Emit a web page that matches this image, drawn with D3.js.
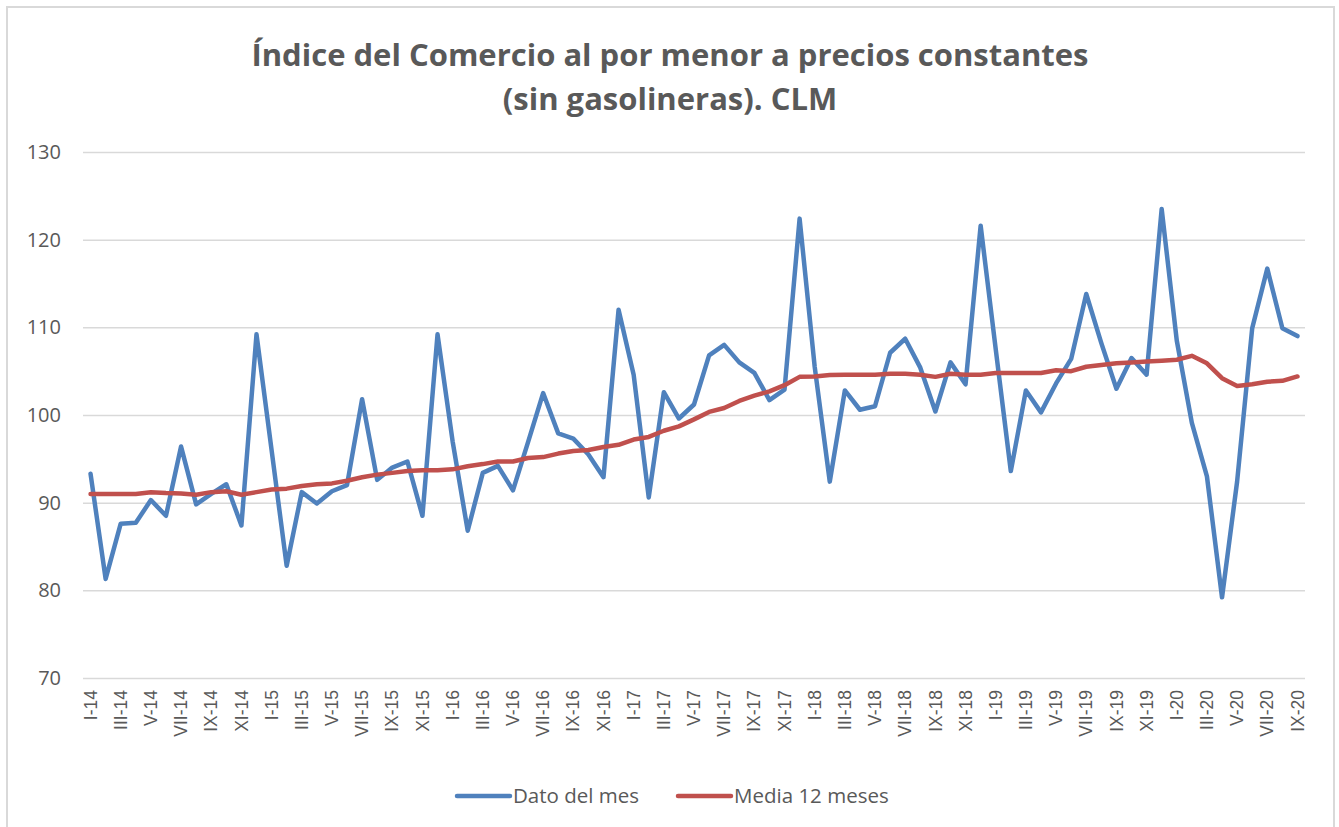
<!DOCTYPE html>
<html>
<head>
<meta charset="utf-8">
<script src="https://cdn.jsdelivr.net/npm/d3@7"></script>
<style>
  body { margin: 0; background: #fff; }
  svg { display: block; font-family: "Open Sans", "Noto Sans", sans-serif; }
</style>
</head>
<body>
<svg id="chart" width="1339" height="827"></svg>
<script>
// months from I-14 to IX-20
const romans = ["I", "II", "III", "IV", "V", "VI", "VII", "VIII", "IX", "X", "XI", "XII"];
const years = ["14", "15", "16", "17", "18", "19", "20"];
const months = [];
years.forEach((y) => romans.forEach((r) => months.push(r + "-" + y)));
months.splice(months.indexOf("IX-20") + 1);

// Dato del mes
const datoMes = [
  93.3, 81.3, 87.6, 87.7, 90.3, 88.5, 96.4, 89.8, 91.0, 92.1, 87.4, 109.2,
  96.0, 82.8, 91.2, 89.9, 91.3, 92.0, 101.8, 92.6, 94.0, 94.7, 88.5, 109.2,
  97.0, 86.8, 93.4, 94.2, 91.4, 96.9, 102.5, 97.9, 97.3, 95.5, 92.9, 112.0,
  104.6, 90.6, 102.6, 99.6, 101.2, 106.8, 108.0, 106.0, 104.8, 101.7, 102.9, 122.4,
  105.5, 92.4, 102.8, 100.6, 101.0, 107.1, 108.7, 105.4, 100.4, 106.0, 103.5, 121.6,
  107.5, 93.6, 102.8, 100.3, 103.6, 106.4, 113.8, 108.2, 103.0, 106.5, 104.6, 123.5,
  108.5, 99.1, 93.0, 79.2, 92.4, 109.9, 116.7, 109.9, 109.0
];

// Media 12 meses
const media12 = [
  91.0, 91.0, 91.0, 91.0, 91.2, 91.1, 91.05, 90.9, 91.2, 91.3, 90.9, 91.2,
  91.5, 91.6, 91.9, 92.1, 92.2, 92.5, 92.9, 93.2, 93.4, 93.6, 93.7, 93.7,
  93.8, 94.15, 94.4, 94.7, 94.7, 95.1, 95.2, 95.6, 95.9, 96.0, 96.35, 96.6,
  97.2, 97.5, 98.2, 98.7, 99.5, 100.35, 100.8, 101.6, 102.2, 102.7, 103.4, 104.35,
  104.4, 104.55, 104.6, 104.6, 104.6, 104.7, 104.7, 104.6, 104.35, 104.7, 104.6, 104.6,
  104.8, 104.8, 104.8, 104.8, 105.1, 105.0, 105.5, 105.7, 105.9, 106.0, 106.1, 106.2,
  106.3, 106.75, 105.9, 104.2, 103.3, 103.5, 103.8, 103.9, 104.4
];

const yTicks = [70, 80, 90, 100, 110, 120, 130];
const titleLines = ["Índice del Comercio al por menor a precios constantes", "(sin gasolineras). CLM"];
const seriesNames = ["Dato del mes", "Media 12 meses"];
const colors = ["#4f81bd", "#c0504d"];

const svg = d3.select("#chart");
const W = 1339, H = 827;
const margin = { left: 83, right: 34, top: 152, bottom: 149 };

// chart frame (bottom edge runs past the picture)
svg.append("rect")
  .attr("x", 7).attr("y", 7)
  .attr("width", 1327).attr("height", 840)
  .attr("fill", "#fff").attr("stroke", "#d9d9d9").attr("stroke-width", 2);

const x = d3.scaleBand()
  .domain(months)
  .range([margin.left, W - margin.right])
  .padding(0);

const y = d3.scaleLinear()
  .domain([70, 130])
  .range([H - margin.bottom, margin.top]);

const cx = (d) => x(d) + x.bandwidth() / 2;

// title
svg.append("g")
  .selectAll("text")
  .data(titleLines)
  .enter()
  .append("text")
  .attr("x", 670)
  .attr("y", (d, i) => 66 + i * 44)
  .attr("text-anchor", "middle")
  .attr("font-size", 31)
  .attr("font-weight", "bold")
  .attr("fill", "#595959")
  .text((d) => d);

// gridlines + y labels
const yAxis = svg.append("g")
  .attr("transform", `translate(${margin.left},0)`)
  .call(d3.axisLeft(y).tickValues(yTicks).tickSize(-(W - margin.left - margin.right)).tickPadding(22));
yAxis.select(".domain").remove();
yAxis.selectAll(".tick line").attr("stroke", "#d9d9d9").attr("stroke-width", 1.5);
yAxis.selectAll(".tick text")
  .attr("font-size", 20)
  .attr("fill", "#595959")
  .attr("font-family", "'Open Sans', sans-serif");

// x labels
const xAxis = svg.append("g")
  .attr("transform", `translate(0,${H - margin.bottom})`)
  .call(d3.axisBottom(x).tickValues(months.filter((d, i) => i % 2 === 0)).tickSize(0));
xAxis.select(".domain").remove();
xAxis.selectAll(".tick text")
  .attr("font-size", 17.5)
  .attr("fill", "#595959")
  .attr("text-anchor", "end")
  .attr("transform", "rotate(-90)")
  .attr("x", -12)
  .attr("y", 0)
  .attr("dy", "0.35em");

// lines
const line = d3.line()
  .x((d, i) => cx(months[i]))
  .y((d) => y(d));

[datoMes, media12].forEach((s, k) => {
  svg.append("path")
    .datum(s)
    .attr("fill", "none")
    .attr("stroke", colors[k])
    .attr("stroke-width", 4.5)
    .attr("stroke-linejoin", "round")
    .attr("stroke-linecap", "round")
    .attr("d", line);
});

// legend
const legendX = [457, 678];
const legend = svg.append("g")
  .selectAll("g")
  .data(seriesNames)
  .enter()
  .append("g")
  .attr("transform", (d, i) => `translate(${legendX[i]},796)`);
legend.append("line")
  .attr("x1", 0).attr("x2", 53)
  .attr("stroke", (d, i) => colors[i])
  .attr("stroke-width", 4.5)
  .attr("stroke-linecap", "round");
legend.append("text")
  .attr("x", 56)
  .attr("dy", "0.35em")
  .attr("font-size", 20.5)
  .attr("fill", "#595959")
  .text((d) => d);
</script>
</body>
</html>
